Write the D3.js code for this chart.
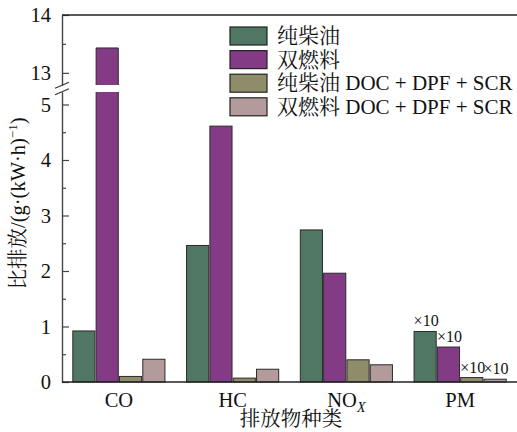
<!DOCTYPE html>
<html>
<head>
<meta charset="utf-8">
<script src="https://cdn.jsdelivr.net/npm/d3@7"></script>
<style>
  html, body { margin: 0; padding: 0; background: #fff; }
  svg { display: block; }
  text { font-family: "Liberation Serif", "Noto Serif CJK SC", "Noto Sans CJK SC", serif; fill: #111; }
</style>
</head>
<body>
<svg id="chart" width="517" height="432"></svg>
<script>
// Emission categories and series
const categories = ["CO", "HC", "NOx", "PM"];
const seriesNames = ["纯柴油", "双燃料", "纯柴油 DOC + DPF + SCR", "双燃料 DOC + DPF + SCR"];
const seriesColors = ["#4f7763", "#843b85", "#8f8c6a", "#b39b9b"];

// Specific emissions, g/(kW·h); PM values are shown ×10 (×100 for the after-treated ones)
const dieselValues      = [0.92, 2.46, 2.74, 0.91];
const dualFuelValues    = [13.43, 4.61, 1.96, 0.63];
const dieselAftValues   = [0.10, 0.07, 0.40, 0.08];
const dualFuelAftValues = [0.41, 0.23, 0.31, 0.05];

// Multiplier notes on the PM group
const pmNotes = ["×10", "×10", "×10", "×10"];

// Y tick values for the two axis segments
const lowTicks = [0, 1, 2, 3, 4, 5];
const lowMinor = [0.5, 1.5, 2.5, 3.5, 4.5];
const highTicks = [13, 14];
const highMinor = [13.5];

const seriesValues = [dieselValues, dualFuelValues, dieselAftValues, dualFuelAftValues];

const svg = d3.select("#chart");
const plotLeft = 62, plotRight = 517, plotBottom = 382, plotTop = 15;
const lowTop = 92, highBottom = 85;

const x0 = d3.scaleBand().domain(categories).range([plotLeft, plotRight])
  .paddingInner(0.19).paddingOuter(0.095);
const x1 = d3.scaleBand().domain(d3.range(seriesNames.length)).range([0, x0.bandwidth()])
  .paddingInner(0.05);

const yLow = d3.scaleLinear().domain([0, 5.225]).range([plotBottom, lowTop]);
const yHigh = d3.scaleLinear().domain([12.79, 14]).range([highBottom, plotTop]);

// Bars
const rows = [];
categories.forEach((c, ci) => {
  seriesValues.forEach((vals, si) => rows.push({ c, si, v: vals[ci] }));
});

const bars = svg.append("g");
// open-edged piece: outline on the sides (and top if closedTop), none at the cut
function piece(bx, bw, y0, y1, fill, closedTop, closedBottom) {
  bars.append("rect").attr("x", bx).attr("width", bw)
    .attr("y", y0).attr("height", y1 - y0).attr("fill", fill);
  let d = `M${bx},${y1}V${y0}`;
  d += closedTop ? `H${bx + bw}` : `M${bx + bw},${y0}`;
  d += `V${y1}`;
  if (closedBottom) d += `H${bx}`;
  bars.append("path").attr("d", d).attr("fill", "none")
    .attr("stroke", "#2b2b2b").attr("stroke-width", 1);
}
rows.forEach(d => {
  const bx = x0(d.c) + x1(d.si);
  const bw = x1.bandwidth();
  const fill = seriesColors[d.si];
  if (d.v <= yLow.domain()[1]) {
    bars.append("rect")
      .attr("x", bx).attr("width", bw)
      .attr("y", yLow(d.v)).attr("height", yLow(0) - yLow(d.v))
      .attr("fill", fill).attr("stroke", "#2b2b2b").attr("stroke-width", 1);
  } else {
    // lower piece up to the break, upper piece from the break to the value
    piece(bx, bw, yLow(yLow.domain()[1]), yLow(0), fill, false, true);
    piece(bx, bw, yHigh(d.v), yHigh(yHigh.domain()[0]), fill, true, false);
  }
});

// PM multiplier notes
const pmIndex = categories.indexOf("PM");
pmNotes.forEach((t, si) => {
  const v = seriesValues[si][pmIndex];
  svg.append("text")
    .attr("x", x0("PM") + x1(si) + x1.bandwidth() / 2 + 1)
    .attr("y", yLow(v) - 5)
    .attr("text-anchor", "middle")
    .attr("font-size", 16)
    .text(t);
});

// Y axes (inward ticks)
function styleAxis(g) {
  g.selectAll("path.domain").attr("stroke", "#444").attr("stroke-width", 1.2);
  g.selectAll(".tick line").attr("stroke", "#444").attr("stroke-width", 1.2);
  g.selectAll("text").attr("font-size", 20.5)
    .style("font-family", '"Liberation Serif", serif').attr("fill", "#111");
}
const gLow = svg.append("g").attr("transform", `translate(${plotLeft},0)`)
  .call(d3.axisLeft(yLow).tickValues(lowTicks).tickSizeInner(-7).tickSizeOuter(0).tickPadding(11).tickFormat(d3.format("d")));
styleAxis(gLow);
const gLowMinor = svg.append("g").attr("transform", `translate(${plotLeft},0)`)
  .call(d3.axisLeft(yLow).tickValues(lowMinor).tickSizeInner(-4).tickSizeOuter(0).tickFormat(""));
styleAxis(gLowMinor);
const gHigh = svg.append("g").attr("transform", `translate(${plotLeft},0)`)
  .call(d3.axisLeft(yHigh).tickValues(highTicks).tickSizeInner(-7).tickSizeOuter(0).tickPadding(11).tickFormat(d3.format("d")));
styleAxis(gHigh);
const gHighMinor = svg.append("g").attr("transform", `translate(${plotLeft},0)`)
  .call(d3.axisLeft(yHigh).tickValues(highMinor).tickSizeInner(-4).tickSizeOuter(0).tickFormat(""));
styleAxis(gHighMinor);

// Axis break marks
const breakMid = (lowTop + highBottom) / 2;
[-3.2, 3.2].forEach(dy => {
  svg.append("line")
    .attr("x1", plotLeft - 7).attr("y1", breakMid + dy + 3)
    .attr("x2", plotLeft + 7).attr("y2", breakMid + dy - 3)
    .attr("stroke", "#333").attr("stroke-width", 1.2);
});

// Top frame line
svg.append("line")
  .attr("x1", plotLeft).attr("x2", plotRight).attr("y1", plotTop).attr("y2", plotTop)
  .attr("stroke", "#222").attr("stroke-width", 1.4);

// X axis
const gx = svg.append("g").attr("transform", `translate(0,${plotBottom})`)
  .call(d3.axisBottom(x0).tickSize(0).tickPadding(10).tickSizeOuter(0));
gx.selectAll("path.domain").attr("stroke", "#222").attr("stroke-width", 1.3)
  .attr("d", `M${plotLeft},0H${plotRight}`);
gx.selectAll("text").attr("font-size", 20.5).attr("dy", "0.71em")
  .style("font-family", '"Liberation Serif", serif').attr("fill", "#111")
  .each(function (d) {
    if (d === "NOx") {
      const t = d3.select(this).text("");
      t.append("tspan").text("NO");
      t.append("tspan").text("X").attr("font-style", "italic")
        .attr("font-size", 14).attr("dy", "5");
    }
  });

// Axis titles
svg.append("text")
  .attr("x", 291).attr("y", 426)
  .attr("text-anchor", "middle").attr("font-size", 20.5)
  .text("排放物种类");

const yTitle = svg.append("text")
  .attr("transform", `translate(25,${(plotTop + plotBottom) / 2 + 5}) rotate(-90)`)
  .attr("text-anchor", "middle").attr("font-size", 20.5);
yTitle.append("tspan").text("比排放/(g·(kW·h)");
yTitle.append("tspan").text("−1").attr("font-size", 13).attr("dy", "-8");
yTitle.append("tspan").text(")").attr("dy", "8");

// Legend
const legend = svg.append("g").attr("transform", "translate(230,27)");
seriesNames.forEach((name, i) => {
  const g = legend.append("g").attr("transform", `translate(0,${i * 23.6})`);
  g.append("rect").attr("width", 37).attr("height", 18)
    .attr("fill", seriesColors[i]).attr("stroke", "#222").attr("stroke-width", 1.2);
  g.append("text").attr("x", 47).attr("y", 16).attr("font-size", 21).text(name);
});
</script>
</body>
</html>
